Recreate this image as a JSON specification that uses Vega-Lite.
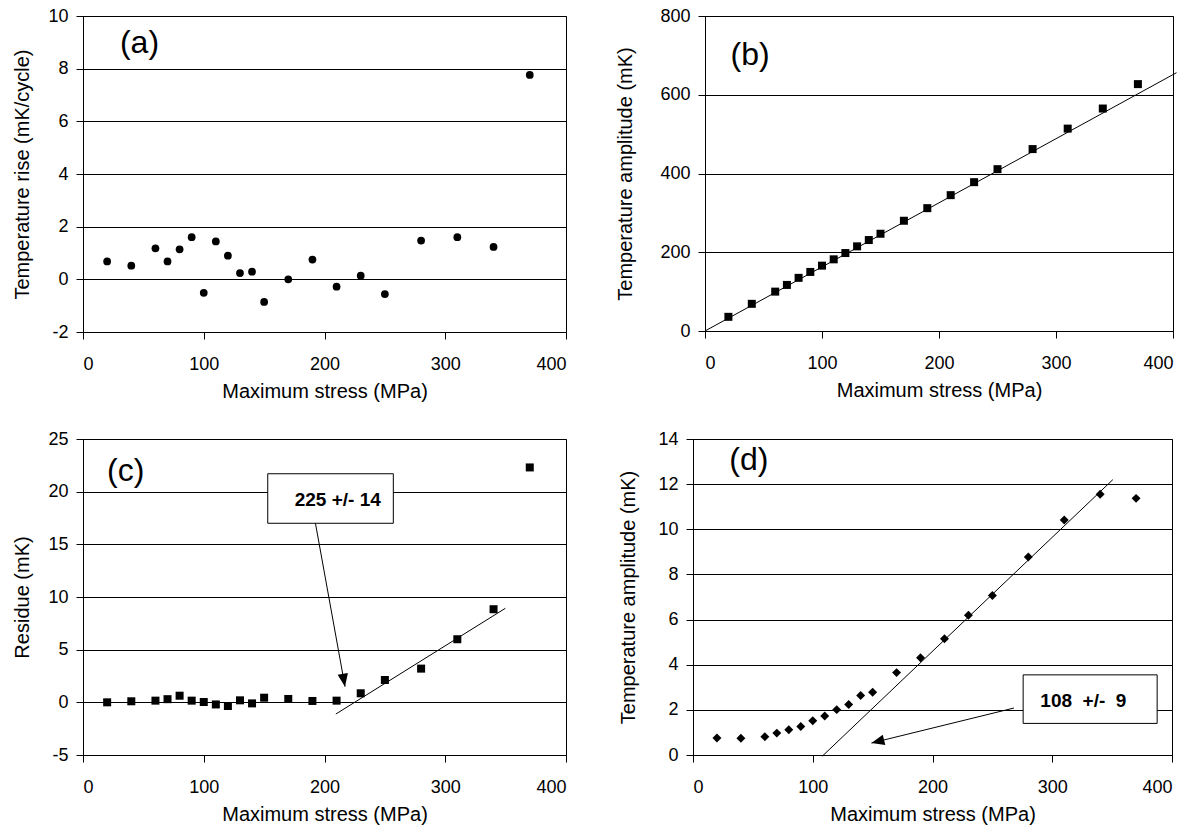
{
  "$schema": "https://vega.github.io/schema/vega-lite/v6.json",
  "background": "white",
  "padding": {"left": 12, "top": 6, "right": 5, "bottom": 5},
  "config": {
    "font": "Liberation Sans",
    "view": {"stroke": "black", "strokeWidth": 1},
    "axis": {
      "domainColor": "black", "tickColor": "black", "labelColor": "black", "titleColor": "black",
      "labelFont": "Liberation Sans", "titleFont": "Liberation Sans",
      "labelFontSize": 18, "titleFontSize": 20, "titleFontWeight": "normal",
      "tickSize": 7, "domainWidth": 1, "tickWidth": 1,
      "gridColor": "black", "gridOpacity": 1, "gridWidth": 1
    },
    "axisX": {"grid": false, "labelPadding": 16, "titlePadding": 8},
    "axisY": {"grid": true, "labelPadding": 8}
  },
  "datasets": {
    "a": [
      {"stress": 20, "value": 0.68}, {"stress": 40, "value": 0.52}, {"stress": 60, "value": 1.18},
      {"stress": 70, "value": 0.68}, {"stress": 80, "value": 1.14}, {"stress": 90, "value": 1.6},
      {"stress": 100, "value": -0.51}, {"stress": 110, "value": 1.44}, {"stress": 120, "value": 0.9},
      {"stress": 130, "value": 0.24}, {"stress": 140, "value": 0.29}, {"stress": 150, "value": -0.86},
      {"stress": 170, "value": 0.0}, {"stress": 190, "value": 0.75}, {"stress": 210, "value": -0.28},
      {"stress": 230, "value": 0.14}, {"stress": 250, "value": -0.56}, {"stress": 280, "value": 1.47},
      {"stress": 310, "value": 1.6}, {"stress": 340, "value": 1.23}, {"stress": 370, "value": 7.76}
    ],
    "b": [
      {"stress": 20, "value": 36}, {"stress": 40, "value": 69}, {"stress": 60, "value": 100},
      {"stress": 70, "value": 117}, {"stress": 80, "value": 135}, {"stress": 90, "value": 150},
      {"stress": 100, "value": 166}, {"stress": 110, "value": 182}, {"stress": 120, "value": 198},
      {"stress": 130, "value": 215}, {"stress": 140, "value": 231}, {"stress": 150, "value": 247},
      {"stress": 170, "value": 280}, {"stress": 190, "value": 312}, {"stress": 210, "value": 345},
      {"stress": 230, "value": 378}, {"stress": 250, "value": 411}, {"stress": 280, "value": 462},
      {"stress": 310, "value": 514}, {"stress": 340, "value": 565}, {"stress": 370, "value": 627}
    ],
    "b_fit": [{"stress": 0, "value": 0}, {"stress": 403, "value": 656}],
    "c": [
      {"stress": 20, "value": 0.0}, {"stress": 40, "value": 0.1}, {"stress": 60, "value": 0.16},
      {"stress": 70, "value": 0.3}, {"stress": 80, "value": 0.63}, {"stress": 90, "value": 0.16},
      {"stress": 100, "value": 0.03}, {"stress": 110, "value": -0.2}, {"stress": 120, "value": -0.35},
      {"stress": 130, "value": 0.19}, {"stress": 140, "value": -0.1}, {"stress": 150, "value": 0.44},
      {"stress": 170, "value": 0.32}, {"stress": 190, "value": 0.13}, {"stress": 210, "value": 0.16},
      {"stress": 230, "value": 0.86}, {"stress": 250, "value": 2.12}, {"stress": 280, "value": 3.2},
      {"stress": 310, "value": 5.99}, {"stress": 340, "value": 8.84}, {"stress": 370, "value": 22.3}
    ],
    "c_fit": [{"stress": 209.4, "value": -1.11}, {"stress": 349.8, "value": 8.93}],
    "c_box": [{"stress": 153, "stress_end": 257, "value": 21.7, "value_end": 17.0}],
    "c_note": [{"stress": 211, "value": 19.2, "label": "225 +/- 14"}],
    "c_arrow": [{"stress": 192.5, "value": 17.0, "stress_end": 217, "value_end": 1.49}],
    "c_tip": [{"stress": 217, "value": 1.49}],
    "d": [
      {"stress": 20, "value": 0.75}, {"stress": 40, "value": 0.74}, {"stress": 60, "value": 0.81},
      {"stress": 70, "value": 0.97}, {"stress": 80, "value": 1.12}, {"stress": 90, "value": 1.26},
      {"stress": 100, "value": 1.52}, {"stress": 110, "value": 1.73}, {"stress": 120, "value": 2.01},
      {"stress": 130, "value": 2.24}, {"stress": 140, "value": 2.64}, {"stress": 150, "value": 2.78},
      {"stress": 170, "value": 3.65}, {"stress": 190, "value": 4.31}, {"stress": 210, "value": 5.15},
      {"stress": 230, "value": 6.19}, {"stress": 250, "value": 7.07}, {"stress": 280, "value": 8.77},
      {"stress": 310, "value": 10.41}, {"stress": 340, "value": 11.55}, {"stress": 370, "value": 11.37}
    ],
    "d_fit": [{"stress": 108, "value": -0.05}, {"stress": 350.6, "value": 12.2}],
    "d_box": [{"stress": 275.7, "stress_end": 387.6, "value": 3.55, "value_end": 1.4}],
    "d_note": [{"stress": 326, "value": 2.39, "label": "108\u00a0\u00a0+/-\u00a0\u00a09"}],
    "d_arrow": [{"stress": 268, "value": 2.08, "stress_end": 149, "value_end": 0.53}],
    "d_tip": [{"stress": 149, "value": 0.53}],
    "labels_a": [{"stress": 30.6, "value": 8.99, "label": "(a)"}],
    "labels_b": [{"stress": 21.9, "value": 701, "label": "(b)"}],
    "labels_c": [{"stress": 19.9, "value": 21.96, "label": "(c)"}],
    "labels_d": [{"stress": 30.3, "value": 13.07, "label": "(d)"}]
  },
  "spacing": 27,
  "vconcat": [
    {
      "bounds": "flush",
      "spacing": 139,
      "hconcat": [
        {
          "width": 483, "height": 316,
          "encoding": {
            "x": {"field": "stress", "type": "quantitative", "scale": {"domain": [0, 400], "nice": false, "zero": false}, "axis": {"values": [0, 100, 200, 300, 400], "title": "Maximum stress (MPa)"}},
            "y": {"field": "value", "type": "quantitative", "scale": {"domain": [-2, 10], "nice": false, "zero": false}, "axis": {"values": [-2, 0, 2, 4, 6, 8, 10], "labelExpr": "datum.value < 0 ? '-' + abs(datum.value) : datum.label", "title": "Temperature rise (mK/cycle)", "titlePadding": 15}}
          },
          "layer": [
            {"data": {"name": "a"}, "mark": {"type": "point", "shape": "circle", "filled": true, "size": 60, "color": "black", "opacity": 1}},
            {"data": {"name": "labels_a"}, "mark": {"type": "text", "fontSize": 32, "align": "left", "baseline": "middle", "color": "black"}, "encoding": {"text": {"field": "label"}}}
          ]
        },
        {
          "width": 468, "height": 315,
          "encoding": {
            "x": {"field": "stress", "type": "quantitative", "scale": {"domain": [0, 400], "nice": false, "zero": false}, "axis": {"values": [0, 100, 200, 300, 400], "title": "Maximum stress (MPa)"}},
            "y": {"field": "value", "type": "quantitative", "scale": {"domain": [0, 800], "nice": false, "zero": false}, "axis": {"values": [0, 200, 400, 600, 800], "title": "Temperature amplitude (mK)", "titlePadding": 24}}
          },
          "layer": [
            {"data": {"name": "b_fit"}, "mark": {"type": "line", "color": "black", "strokeWidth": 1, "clip": false}},
            {"data": {"name": "b"}, "mark": {"type": "point", "shape": "square", "filled": true, "size": 64, "color": "black", "opacity": 1}},
            {"data": {"name": "labels_b"}, "mark": {"type": "text", "fontSize": 32, "align": "left", "baseline": "middle", "color": "black"}, "encoding": {"text": {"field": "label"}}}
          ]
        }
      ]
    },
    {
      "bounds": "flush",
      "spacing": 127,
      "hconcat": [
        {
          "width": 483, "height": 316,
          "encoding": {
            "x": {"field": "stress", "type": "quantitative", "scale": {"domain": [0, 400], "nice": false, "zero": false}, "axis": {"values": [0, 100, 200, 300, 400], "title": "Maximum stress (MPa)"}},
            "y": {"field": "value", "type": "quantitative", "scale": {"domain": [-5, 25], "nice": false, "zero": false}, "axis": {"values": [-5, 0, 5, 10, 15, 20, 25], "labelExpr": "datum.value < 0 ? '-' + abs(datum.value) : datum.label", "title": "Residue (mK)", "titlePadding": 15}}
          },
          "layer": [
            {"data": {"name": "c"}, "mark": {"type": "point", "shape": "square", "filled": true, "size": 64, "color": "black", "opacity": 1}},
            {"data": {"name": "c_fit"}, "mark": {"type": "line", "color": "black", "strokeWidth": 1}},
            {"data": {"name": "c_box"}, "mark": {"type": "rect", "fill": "white", "stroke": "black", "strokeWidth": 1}, "encoding": {"x2": {"field": "stress_end"}, "y2": {"field": "value_end"}}},
            {"data": {"name": "c_note"}, "mark": {"type": "text", "fontSize": 19, "fontWeight": "bold", "align": "center", "baseline": "middle", "color": "black"}, "encoding": {"text": {"field": "label"}}},
            {"data": {"name": "c_arrow"}, "mark": {"type": "rule", "color": "black", "strokeWidth": 1}, "encoding": {"x2": {"field": "stress_end"}, "y2": {"field": "value_end"}}},
            {"data": {"name": "c_tip"}, "mark": {"type": "point", "shape": "M0,0L-0.4,-1L0.4,-1Z", "filled": true, "size": 676, "angle": 350, "color": "black", "opacity": 1}},
            {"data": {"name": "labels_c"}, "mark": {"type": "text", "fontSize": 32, "align": "left", "baseline": "middle", "color": "black"}, "encoding": {"text": {"field": "label"}}}
          ]
        },
        {
          "width": 479, "height": 316,
          "encoding": {
            "x": {"field": "stress", "type": "quantitative", "scale": {"domain": [0, 400], "nice": false, "zero": false}, "axis": {"values": [0, 100, 200, 300, 400], "title": "Maximum stress (MPa)"}},
            "y": {"field": "value", "type": "quantitative", "scale": {"domain": [0, 14], "nice": false, "zero": false}, "axis": {"values": [0, 2, 4, 6, 8, 10, 12, 14], "title": "Temperature amplitude (mK)", "titlePadding": 19}}
          },
          "layer": [
            {"data": {"name": "d_fit"}, "mark": {"type": "line", "color": "black", "strokeWidth": 1}},
            {"data": {"name": "d"}, "mark": {"type": "point", "shape": "diamond", "filled": true, "size": 80, "color": "black", "opacity": 1}},
            {"data": {"name": "d_box"}, "mark": {"type": "rect", "fill": "white", "stroke": "black", "strokeWidth": 1}, "encoding": {"x2": {"field": "stress_end"}, "y2": {"field": "value_end"}}},
            {"data": {"name": "d_note"}, "mark": {"type": "text", "fontSize": 19, "fontWeight": "bold", "align": "center", "baseline": "middle", "color": "black"}, "encoding": {"text": {"field": "label"}}},
            {"data": {"name": "d_arrow"}, "mark": {"type": "rule", "color": "black", "strokeWidth": 1}, "encoding": {"x2": {"field": "stress_end"}, "y2": {"field": "value_end"}}},
            {"data": {"name": "d_tip"}, "mark": {"type": "point", "shape": "M0,0L-0.4,-1L0.4,-1Z", "filled": true, "size": 676, "angle": 76, "color": "black", "opacity": 1}},
            {"data": {"name": "labels_d"}, "mark": {"type": "text", "fontSize": 32, "align": "left", "baseline": "middle", "color": "black"}, "encoding": {"text": {"field": "label"}}}
          ]
        }
      ]
    }
  ]
}
